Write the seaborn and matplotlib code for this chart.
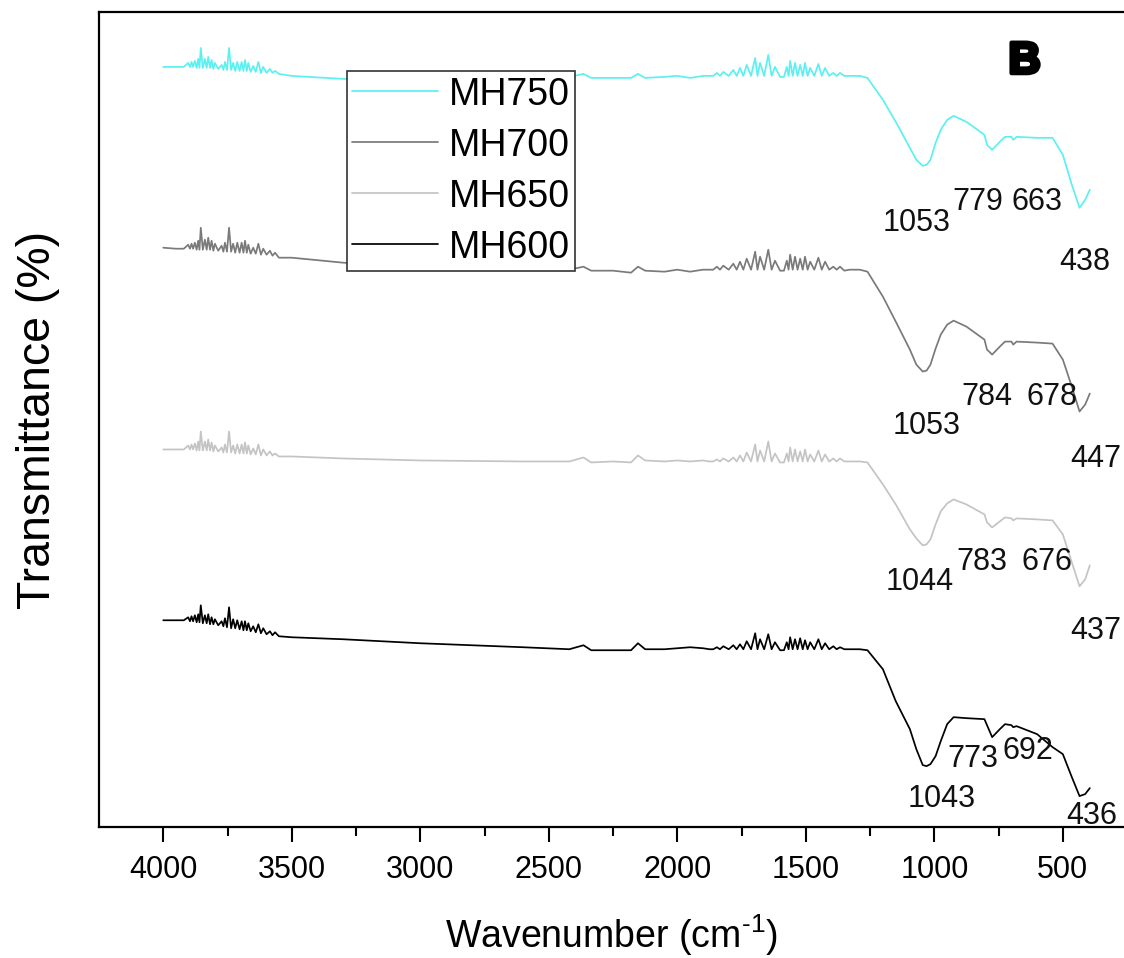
import numpy as np
import pandas as pd
import matplotlib
matplotlib.use('Agg')
import matplotlib.pyplot as plt
import matplotlib.patheffects as pe
from matplotlib.ticker import MultipleLocator
import seaborn as sns

# --- Data (transmittance in arbitrary units, stacked spectra) ---
SAMPLES = ['MH750', 'MH700', 'MH650', 'MH600']
COLORS = {'MH750': '#5CF0F0', 'MH700': '#7A7A7A', 'MH650': '#C4C4C4', 'MH600': '#000000'}

# water-vapour noise region 1 (O-H stretch area)
NOISE1_WN = [4000, 3950, 3920, 3903, 3896, 3890, 3884, 3877, 3870, 3864, 3859, 3854, 3846,
             3838, 3831, 3825, 3818, 3812, 3805, 3799, 3786, 3773, 3766, 3760, 3752, 3744,
             3736, 3728, 3720, 3712, 3703, 3695, 3688, 3682, 3675, 3669, 3660, 3650, 3640,
             3630, 3620, 3611, 3598, 3585, 3575, 3565, 3550]
# flat middle part
MID_WN = [3500, 3300, 3000, 2600, 2420, 2365, 2335, 2250, 2180, 2153, 2125, 2050, 2000,
          1950, 1900, 1875]
# water-vapour noise region 2 (H-O-H bending area)
NOISE2_WN = [1860, 1846, 1834, 1821, 1800, 1782, 1769, 1756, 1743, 1730, 1713, 1697, 1688,
             1678, 1662, 1646, 1633, 1620, 1600, 1585, 1574, 1567, 1561, 1551, 1542, 1532,
             1522, 1512, 1503, 1493, 1483, 1467, 1451, 1438, 1425, 1409, 1393, 1380, 1367,
             1350]
# silicate band region
BAND_WN = [1330, 1290, 1260, 1200, 1150, 1095, 1070, 1045, 1030, 1015, 995, 975, 950, 925,
           875, 805, 795, 775, 745, 725, 700, 693, 680, 600, 540, 500, 465, 435, 413, 395]

mh750_n1 = [76.1, 76.1, 76.1, 76.5, 76.1, 76.6, 76.1, 76.7, 76.0, 76.9, 76.0, 78.0, 76.0,
            76.9, 76.0, 77.1, 76.0, 76.8, 75.9, 76.5, 75.9, 76.3, 75.8, 76.6, 75.8, 78.0,
            75.8, 76.5, 75.7, 76.6, 75.7, 76.6, 75.7, 76.8, 75.7, 76.5, 75.6, 76.2, 75.6,
            76.6, 75.5, 76.1, 75.5, 75.9, 75.5, 75.7, 75.4]
mh700_n1 = [58.0, 57.9, 57.9, 58.3, 57.9, 58.4, 57.9, 58.5, 57.8, 58.7, 57.8, 60.0, 57.8,
            58.8, 57.8, 59.0, 57.8, 58.7, 57.7, 58.4, 57.7, 58.2, 57.6, 58.5, 57.6, 60.0,
            57.6, 58.4, 57.5, 58.5, 57.5, 58.5, 57.5, 58.7, 57.5, 58.3, 57.4, 58.0, 57.4,
            58.4, 57.3, 57.9, 57.3, 57.7, 57.2, 57.5, 57.0]
mh650_n1 = [37.8, 37.8, 37.8, 38.2, 37.8, 38.3, 37.8, 38.4, 37.7, 38.6, 37.7, 39.6, 37.7,
            38.6, 37.7, 38.8, 37.7, 38.5, 37.6, 38.2, 37.6, 38.0, 37.5, 38.3, 37.5, 39.6,
            37.5, 38.2, 37.4, 38.3, 37.4, 38.3, 37.4, 38.5, 37.4, 38.2, 37.3, 37.9, 37.3,
            38.3, 37.2, 37.8, 37.2, 37.6, 37.2, 37.4, 37.1]
mh600_n1 = [20.7, 20.7, 20.7, 21.0, 20.6, 21.1, 20.6, 21.2, 20.5, 21.3, 20.5, 22.2, 20.4,
            21.2, 20.4, 21.3, 20.3, 21.0, 20.3, 20.8, 20.2, 20.6, 20.1, 20.9, 20.0, 22.0,
            19.9, 20.8, 19.9, 20.7, 19.8, 20.6, 19.7, 20.6, 19.7, 20.4, 19.6, 20.1, 19.5,
            20.3, 19.4, 19.9, 19.3, 19.6, 19.2, 19.5, 19.1]

mh750_mid = [75.2, 74.9, 74.9, 75.0, 75.1, 75.4, 75.0, 75.0, 75.0, 75.4, 75.0, 75.1, 75.2,
             75.0, 75.2, 75.2]
mh700_mid = [57.0, 56.5, 56.1, 55.9, 55.8, 56.1, 55.7, 55.7, 55.5, 56.1, 55.7, 55.6, 55.8,
             55.6, 55.8, 55.8]
mh650_mid = [37.1, 36.9, 36.7, 36.6, 36.6, 37.0, 36.5, 36.6, 36.5, 37.2, 36.7, 36.6, 36.7,
             36.6, 36.7, 36.6]
mh600_mid = [19.0, 18.8, 18.4, 18.0, 17.8, 18.2, 17.7, 17.7, 17.7, 18.4, 17.8, 17.8, 17.9,
             18.0, 17.9, 17.8]

mh750_n2 = [75.2, 75.5, 75.2, 75.6, 75.2, 75.8, 75.2, 76.0, 75.2, 76.3, 75.2, 77.0, 75.2,
            76.5, 75.2, 77.3, 75.2, 76.1, 75.1, 75.1, 76.1, 75.2, 76.7, 75.2, 76.5, 75.2,
            76.3, 75.2, 76.5, 75.2, 76.0, 75.2, 76.4, 75.2, 76.0, 75.2, 75.5, 75.2, 75.5,
            75.2]
mh700_n2 = [55.8, 56.1, 55.8, 56.2, 55.8, 56.4, 55.8, 56.6, 55.8, 56.9, 55.8, 57.6, 55.8,
            57.1, 55.8, 57.8, 55.8, 56.7, 55.7, 55.7, 56.7, 55.8, 57.3, 55.8, 57.1, 55.8,
            56.9, 55.8, 57.1, 55.8, 56.6, 55.8, 57.0, 55.8, 56.6, 55.8, 56.1, 55.8, 56.1,
            55.7]
mh650_n2 = [36.6, 36.8, 36.6, 36.9, 36.6, 37.0, 36.6, 37.2, 36.6, 37.5, 36.6, 38.3, 36.6,
            37.7, 36.6, 38.6, 36.6, 37.4, 36.5, 36.5, 37.4, 36.6, 38.0, 36.6, 37.8, 36.6,
            37.6, 36.6, 37.8, 36.6, 37.3, 36.6, 37.7, 36.6, 37.3, 36.6, 36.9, 36.6, 36.9,
            36.6]
mh600_n2 = [17.8, 18.0, 17.8, 18.1, 17.8, 18.2, 17.8, 18.3, 17.8, 18.6, 17.8, 19.4, 17.8,
            18.8, 17.8, 19.3, 17.8, 18.5, 17.7, 17.7, 18.5, 17.8, 19.0, 17.8, 18.8, 17.8,
            18.9, 17.8, 18.7, 17.8, 18.5, 17.8, 18.8, 17.8, 18.4, 17.8, 18.1, 17.8, 18.0,
            17.8]

mh750_band = [75.2, 75.2, 75.0, 72.8, 70.6, 68.0, 66.8, 66.2, 66.3, 66.8, 68.5, 69.8, 70.8,
              71.2, 70.6, 69.3, 68.3, 67.8, 68.6, 69.1, 69.1, 68.8, 69.1, 69.0, 69.0, 67.3,
              64.3, 62.0, 62.8, 63.8]
mh700_band = [55.8, 55.8, 55.6, 53.1, 50.6, 47.8, 46.3, 45.6, 45.7, 46.3, 47.9, 49.3, 50.3,
              50.7, 50.1, 48.8, 47.8, 47.3, 48.1, 48.6, 48.6, 48.3, 48.6, 48.5, 48.4, 46.8,
              44.1, 41.6, 42.3, 43.4]
mh650_band = [36.6, 36.6, 36.5, 34.3, 32.3, 29.8, 28.9, 28.2, 28.3, 28.8, 30.3, 31.6, 32.4,
              32.8, 32.3, 31.3, 30.5, 30.0, 30.6, 31.0, 30.9, 30.7, 30.9, 30.8, 30.7, 29.3,
              26.5, 24.1, 24.8, 26.2]
mh600_band = [17.8, 17.8, 17.7, 15.8, 12.6, 9.8, 7.8, 6.2, 6.1, 6.3, 7.1, 8.6, 10.3, 11.0,
              10.9, 10.8, 10.2, 9.0, 9.8, 10.3, 10.2, 10.0, 10.1, 9.3, 8.0, 7.3, 5.0, 3.1,
              3.3, 3.9]

# peak labels for each spectrum
PEAK_TEXT = {
    'MH750': ['1053', '779', '663', '438'],
    'MH700': ['1053', '784', '678', '447'],
    'MH650': ['1044', '783', '676', '437'],
    'MH600': ['1043', '773', '692', '436'],
}
# where each label sits (wavenumber, transmittance)
PEAK_POS = {
    'MH750': [(1068, 60.5), (830, 62.6), (600, 62.6), (413, 56.6)],
    'MH700': [(1029, 40.2), (796, 43.1), (543, 43.1), (372, 36.8)],
    'MH650': [(1055, 24.5), (815, 26.5), (562, 26.5), (372, 19.6)],
    'MH600': [(971, 2.8), (849, 6.8), (635, 7.6), (387, 1.1)],
}

series = {
    'MH750': mh750_n1 + mh750_mid + mh750_n2 + mh750_band,
    'MH700': mh700_n1 + mh700_mid + mh700_n2 + mh700_band,
    'MH650': mh650_n1 + mh650_mid + mh650_n2 + mh650_band,
    'MH600': mh600_n1 + mh600_mid + mh600_n2 + mh600_band,
}
wn_all = NOISE1_WN + MID_WN + NOISE2_WN + BAND_WN

df = pd.concat([
    pd.DataFrame({'wavenumber': wn_all, 'T': series[s], 'sample': s}) for s in SAMPLES
], ignore_index=True)

# --- Plot ---
sns.set_style('ticks')
plt.rcParams['font.family'] = ['Liberation Sans', 'DejaVu Sans']
plt.rcParams['mathtext.fontset'] = 'custom'
plt.rcParams['mathtext.rm'] = 'Liberation Sans'
plt.rcParams['text.color'] = 'black'
plt.rcParams['axes.labelcolor'] = 'black'
plt.rcParams['xtick.color'] = 'black'

fig = plt.figure(figsize=(11.24, 9.58), dpi=100)
ax = fig.add_axes([0.0883, 0.1367, 0.9117, 0.8508])

for s in SAMPLES:
    sub = df[df['sample'] == s]
    sns.lineplot(data=sub, x='wavenumber', y='T', color=COLORS[s], lw=1.25,
                 estimator=None, sort=False, label=s, ax=ax)

for s in SAMPLES:
    for txt, (x, y) in zip(PEAK_TEXT[s], PEAK_POS[s]):
        ax.text(x, y, txt, fontsize=22, ha='center', va='center', color='#111111')

ax.text(0.903, 0.939, 'B', transform=ax.transAxes, fontsize=32, fontweight='bold',
        ha='center', va='center', color='black',
        path_effects=[pe.withStroke(linewidth=3, foreground='black')])

ax.set_xlim(4249, 262)
ax.set_ylim(0, 81.6)
ax.set_yticks([])
ax.xaxis.set_major_locator(MultipleLocator(500))
ax.xaxis.set_minor_locator(MultipleLocator(250))
ax.tick_params(axis='x', which='major', direction='out', length=11, width=1.5,
               labelsize=22, pad=9, color='black', labelcolor='black')
ax.tick_params(axis='x', which='minor', direction='out', length=6.5, width=1.5,
               color='black')
for side in ['left', 'bottom', 'top']:
    ax.spines[side].set_linewidth(1.6)
    ax.spines[side].set_color('black')
ax.spines['right'].set_visible(False)

ax.set_xlabel(r'Wavenumber (cm$^{\text{-}1}$)', fontsize=27, labelpad=20)
ax.set_ylabel('Transmittance (%)', fontsize=33.5, labelpad=28)

leg = ax.legend(loc='upper left', bbox_to_anchor=(0.2414, 0.9276), borderaxespad=0,
                fontsize=27, handlelength=2.3, handletextpad=0.27, borderpad=0.15,
                labelspacing=0.4, frameon=True, fancybox=False, framealpha=1)
leg.get_frame().set_edgecolor('#333333')
leg.get_frame().set_linewidth(1.2)
for t in leg.get_texts():
    t.set_color('black')

fig.savefig('out.png', dpi=100)
